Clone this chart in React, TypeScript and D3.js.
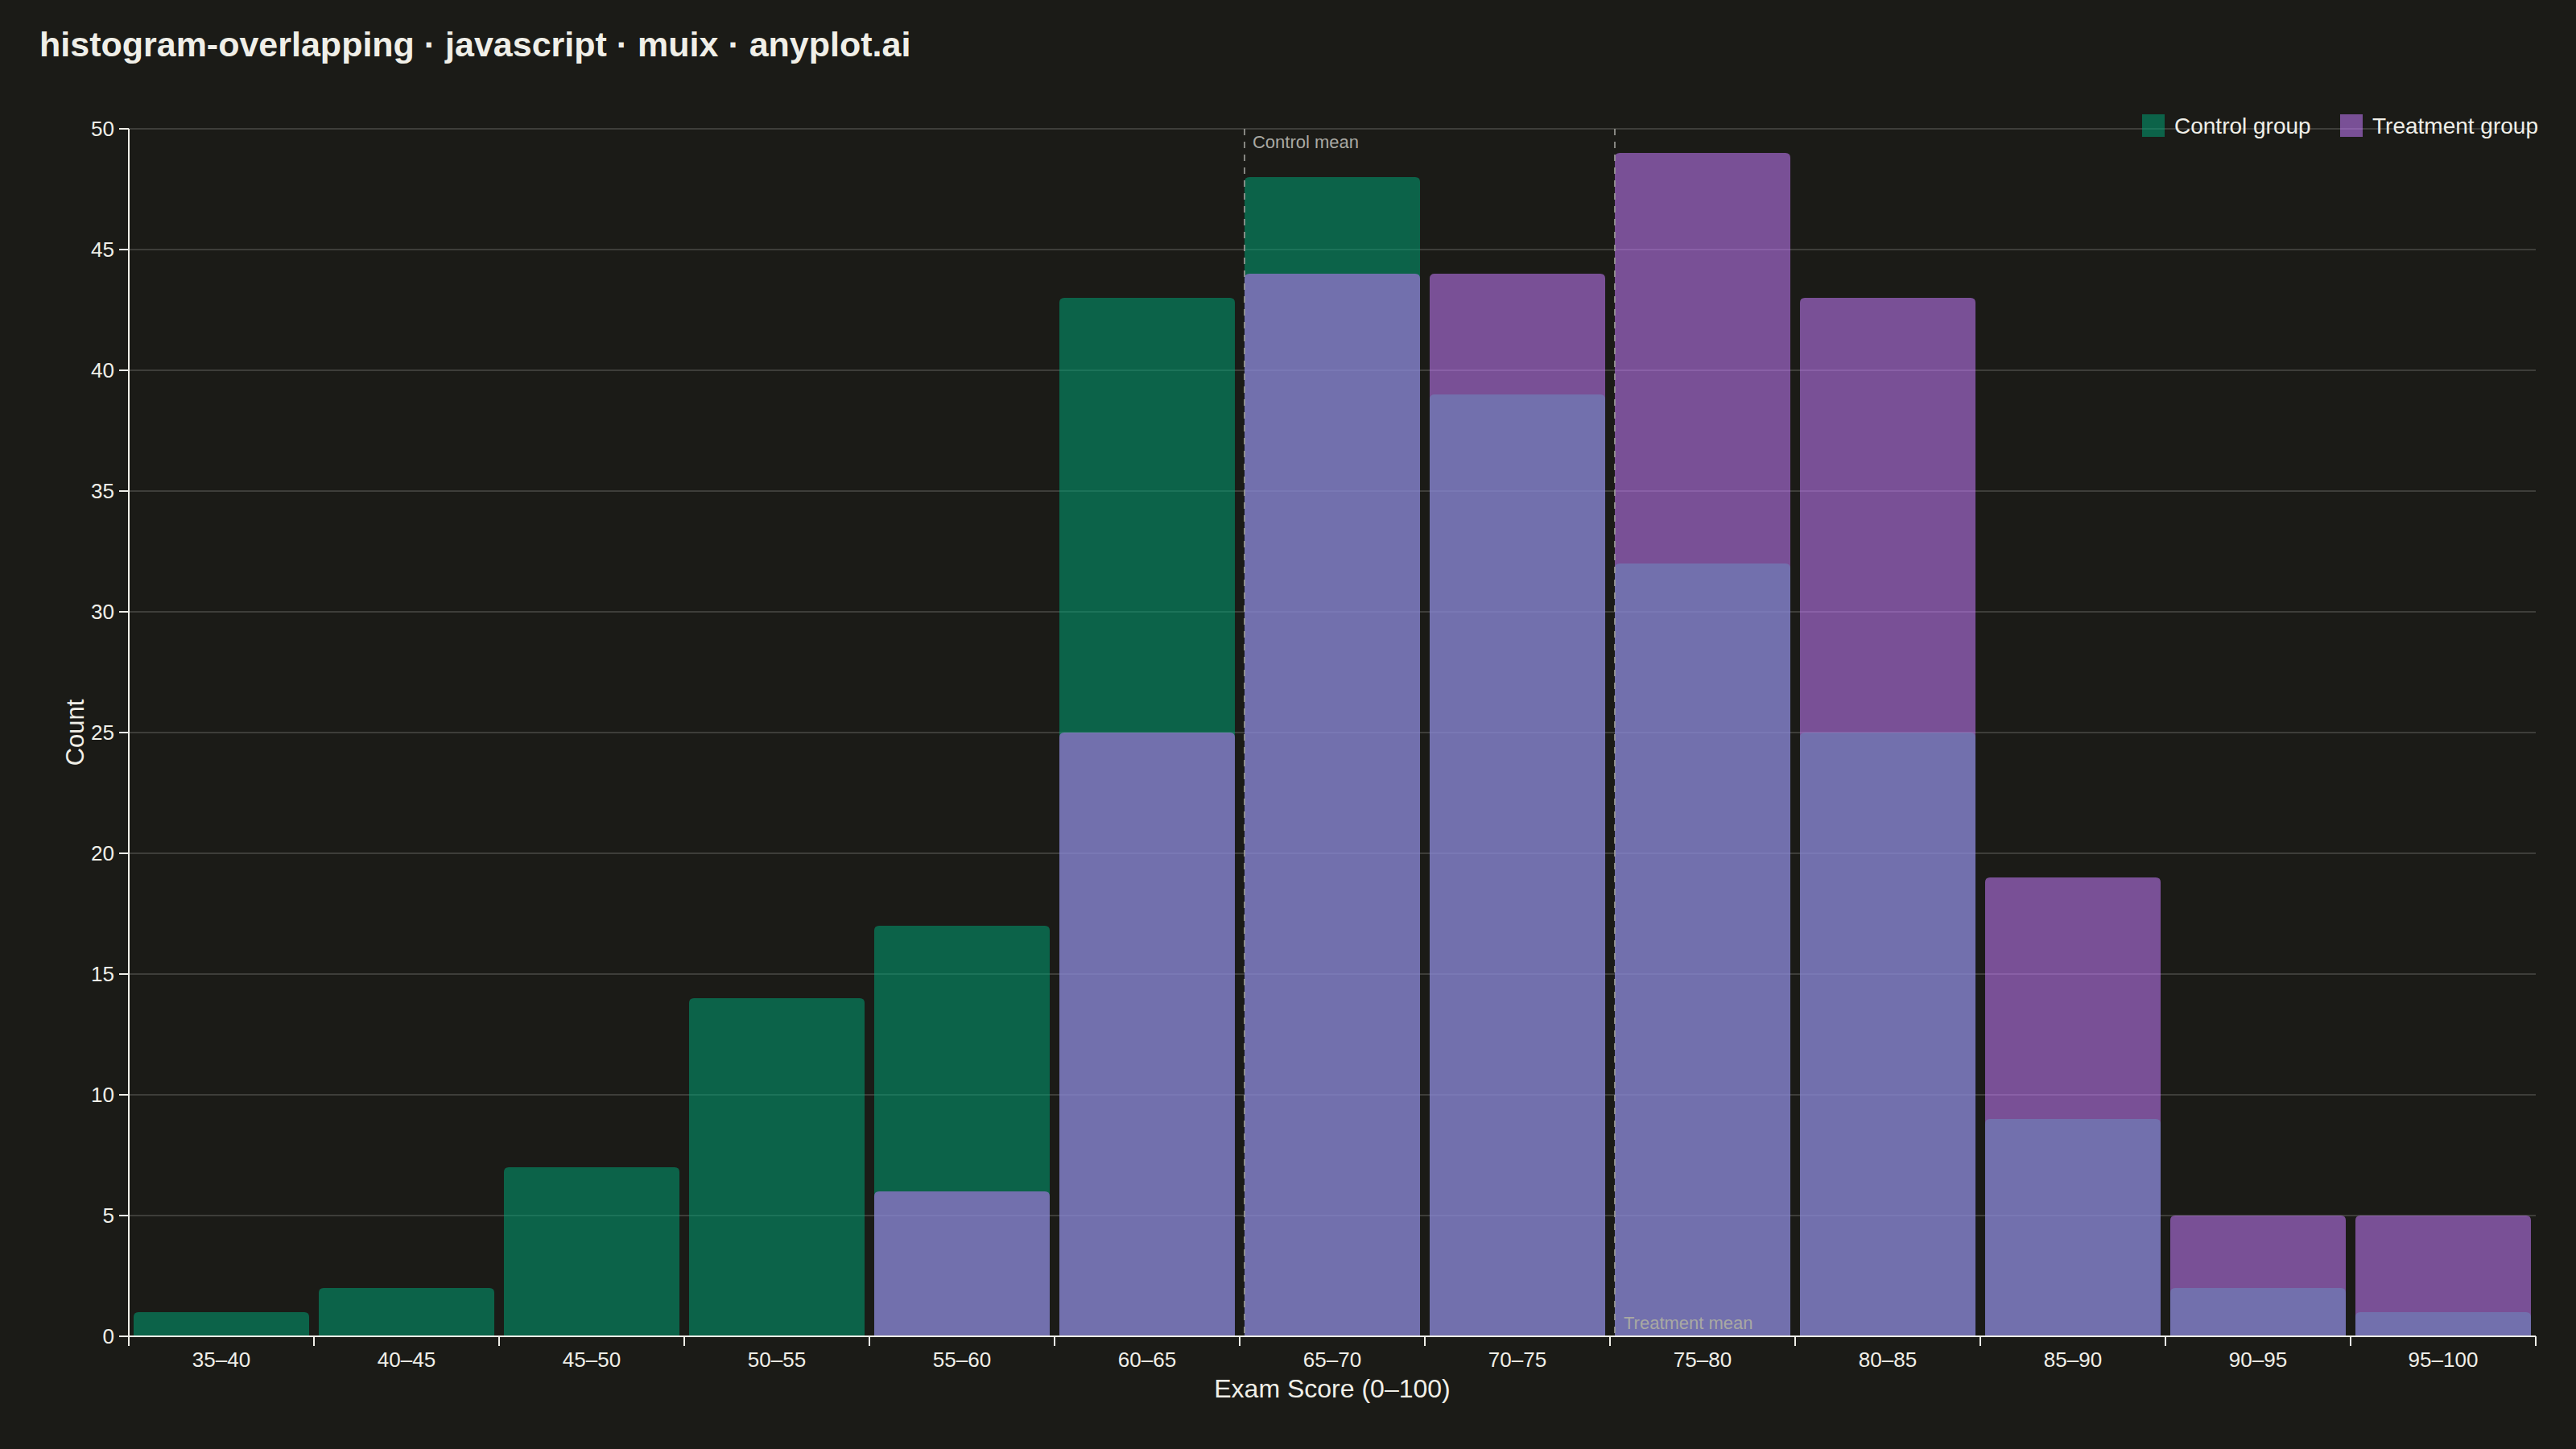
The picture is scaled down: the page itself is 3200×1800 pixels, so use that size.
import React from "react";
import * as d3 from "d3";

const bins = ["35–40", "40–45", "45–50", "50–55", "55–60", "60–65", "65–70", "70–75", "75–80", "80–85", "85–90", "90–95", "95–100"];
const controlCounts = [1, 2, 7, 14, 17, 43, 48, 39, 32, 25, 9, 2, 1];
const treatmentCounts = [0, 0, 0, 0, 6, 25, 44, 44, 49, 43, 19, 5, 5];
const yTicks = [0, 5, 10, 15, 20, 25, 30, 35, 40, 45, 50];
const controlMeanBin = "65–70";
const treatmentMeanBin = "75–80";
const seriesNames = ["Control group", "Treatment group"];

const W = 3200;
const H = 1800;
const M = { left: 160, right: 50, top: 160, bottom: 140 };
const BG = "#1b1b17";
const TEXT = "#f0efe8";
const CONTROL = "#009E73";
const TREAT = "#C77CFF";
const BAR_OPACITY = 0.55;
const FONT = "'Liberation Sans', Arial, Helvetica, sans-serif";

function topRoundedRect(x: number, y: number, w: number, h: number, r: number) {
  if (h <= 0) return "";
  const rr = Math.min(r, h, w / 2);
  return `M${x},${y + h}V${y + rr}Q${x},${y} ${x + rr},${y}H${x + w - rr}Q${x + w},${y} ${x + w},${y + rr}V${y + h}Z`;
}

export default function App() {
  const x = d3
    .scaleBand<string>()
    .domain(bins)
    .range([M.left, W - M.right])
    .paddingInner(0.052)
    .paddingOuter(0.026);
  const y = d3.scaleLinear().domain([0, 50]).range([H - M.bottom, M.top]);
  const halfGap = (x.step() * x.paddingInner()) / 2;
  const edges = bins.map((b) => (x(b) as number) - halfGap);
  edges.push((x(bins[bins.length - 1]) as number) + x.bandwidth() + halfGap);
  const y0 = y(0);
  const x0 = M.left;
  const x1 = W - M.right;
  const cMeanX = x(controlMeanBin) as number;
  const tMeanX = x(treatmentMeanBin) as number;

  const legendItems = [
    { name: seriesNames[0], color: CONTROL, sx: 2661, tx: 2701 },
    { name: seriesNames[1], color: TREAT, sx: 2907, tx: 2947 },
  ];

  return (
    <svg
      width={W}
      height={H}
      style={{ position: "fixed", left: 0, top: 0, display: "block" }}
      fontFamily={FONT}
    >
      <rect x={0} y={0} width={W} height={H} fill={BG} />
      <text x={49} y={70} fill={TEXT} fontSize={43} fontWeight="bold">
        histogram-overlapping · javascript · muix · anyplot.ai
      </text>

      {/* grid */}
      {yTicks
        .filter((t) => t > 0)
        .map((t) => (
          <line key={"g" + t} x1={x0} x2={x1} y1={y(t)} y2={y(t)} stroke="#3e3e3a" strokeWidth={2} />
        ))}

      {/* control bars */}
      {bins.map((b, i) => (
        <path
          key={"c" + b}
          d={topRoundedRect(x(b) as number, y(controlCounts[i]), x.bandwidth(), y0 - y(controlCounts[i]), 6)}
          fill={CONTROL}
          fillOpacity={BAR_OPACITY}
        />
      ))}
      {/* treatment bars */}
      {bins.map((b, i) => (
        <path
          key={"t" + b}
          d={topRoundedRect(x(b) as number, y(treatmentCounts[i]), x.bandwidth(), y0 - y(treatmentCounts[i]), 6)}
          fill={TREAT}
          fillOpacity={BAR_OPACITY}
        />
      ))}

      {/* mean reference lines */}
      <line x1={cMeanX} x2={cMeanX} y1={M.top} y2={y0} stroke="#9a9a95" strokeOpacity={0.85} strokeWidth={2} strokeDasharray="8 8" />
      <line x1={tMeanX} x2={tMeanX} y1={M.top} y2={y0} stroke="#9a9a95" strokeOpacity={0.85} strokeWidth={2} strokeDasharray="8 8" />
      <text x={cMeanX + 10} y={M.top + 24} fill="#a9a9a3" fontSize={22}>
        Control mean
      </text>
      <text x={tMeanX + 11} y={y0 - 9} fill="#a9a9a3" fontSize={22}>
        Treatment mean
      </text>

      {/* y axis */}
      <line x1={x0} x2={x0} y1={M.top} y2={y0} stroke={TEXT} strokeWidth={2} />
      {yTicks.map((t) => (
        <g key={"yt" + t}>
          <line x1={x0 - 12} x2={x0} y1={y(t)} y2={y(t)} stroke={TEXT} strokeWidth={2} />
          <text x={x0 - 18} y={y(t)} fill={TEXT} fontSize={26} textAnchor="end" dominantBaseline="central">
            {t}
          </text>
        </g>
      ))}
      <text
        transform={`translate(93,${(M.top + y0) / 2}) rotate(-90)`}
        fill={TEXT}
        fontSize={31}
        textAnchor="middle"
        dominantBaseline="central"
      >
        Count
      </text>

      {/* x axis */}
      <line x1={x0} x2={x1} y1={y0} y2={y0} stroke={TEXT} strokeWidth={2} />
      {edges.map((e, i) => (
        <line key={"xt" + i} x1={e} x2={e} y1={y0} y2={y0 + 12} stroke={TEXT} strokeWidth={2} />
      ))}
      {bins.map((b) => (
        <text key={"xl" + b} x={(x(b) as number) + x.bandwidth() / 2} y={y0 + 38} fill={TEXT} fontSize={26} textAnchor="middle">
          {b}
        </text>
      ))}
      <text x={(x0 + x1) / 2} y={y0 + 76} fill={TEXT} fontSize={32} textAnchor="middle">
        Exam Score (0–100)
      </text>

      {/* legend */}
      {legendItems.map((l) => (
        <g key={l.name}>
          <rect x={l.sx} y={142} width={28} height={28} fill={l.color} fillOpacity={BAR_OPACITY} />
          <text x={l.tx} y={156} fill={TEXT} fontSize={28} dominantBaseline="central">
            {l.name}
          </text>
        </g>
      ))}
    </svg>
  );
}
